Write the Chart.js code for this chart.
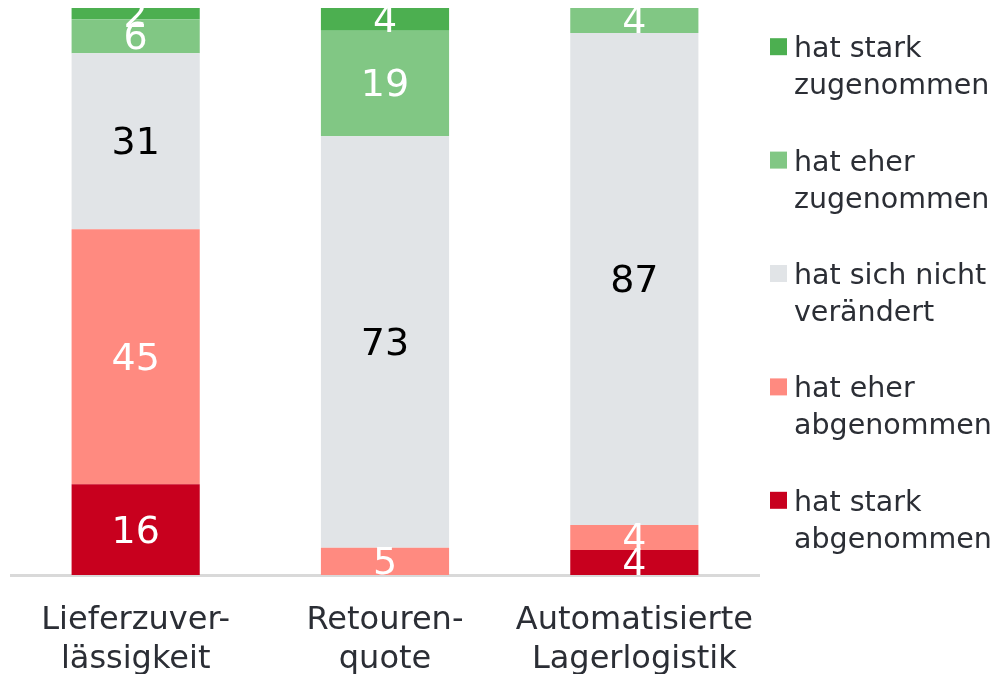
<!DOCTYPE html>
<html lang="de">
<head>
  <meta charset="UTF-8" />
  <title>Veränderungen</title>
  <script src="https://cdn.jsdelivr.net/npm/chart.js"></script>
  <style>
    * { margin: 0; padding: 0; box-sizing: border-box; }
    body { background: #fff; width: 997px; height: 674px; overflow: hidden; }
    canvas { display: block; }
  </style>
</head>
<body>
  <canvas id="chart" width="997" height="674"></canvas>

  <script>
    const categories = [
      ['Lieferzuver-', 'lässigkeit'],
      ['Retouren-', 'quote'],
      ['Automatisierte', 'Lagerlogistik']
    ];
    // stacked from bottom to top
    const starkAbgenommen = [16, 0, 4.4];
    const eherAbgenommen = [45, 4.8, 4.4];
    const unveraendert = [31, 72.6, 86.8];
    const eherZugenommen = [6, 18.6, 4.4];
    const starkZugenommen = [2, 4.0, 0];

    const seriesNames = [
      ['hat stark', 'abgenommen'],
      ['hat eher', 'abgenommen'],
      ['hat sich nicht', 'verändert'],
      ['hat eher', 'zugenommen'],
      ['hat stark', 'zugenommen']
    ];
    const colors = ['#c8001e', '#ff8a80', '#e1e4e7', '#81c784', '#4caf50'];
    const labelColors = ['#fff', '#fff', '#000', '#fff', '#fff'];
    const textColor = '#2b2e35';
    const fontFamily = '"DejaVu Sans", Verdana, sans-serif';

    const valueLabels = {
      id: 'valueLabels',
      afterDatasetsDraw(chart) {
        const ctx = chart.ctx;
        ctx.save();
        ctx.font = '38px ' + fontFamily;
        ctx.textAlign = 'center';
        ctx.textBaseline = 'middle';
        chart.data.datasets.forEach((ds, i) => {
          chart.getDatasetMeta(i).data.forEach((bar, j) => {
            const v = ds.data[j];
            if (!v) return;
            ctx.fillStyle = labelColors[i];
            ctx.fillText(String(Math.round(v)), bar.x, (bar.y + bar.base) / 2 + 3);
          });
        });
        ctx.restore();
      }
    };

    const sideLegend = {
      id: 'sideLegend',
      afterDraw(chart) {
        const ctx = chart.ctx;
        const area = chart.chartArea;
        const n = seriesNames.length;
        const step = (area.bottom - area.top) / n;
        ctx.save();
        ctx.font = '28.5px ' + fontFamily;
        ctx.textAlign = 'left';
        ctx.textBaseline = 'middle';
        for (let k = 0; k < n; k++) {
          const i = n - 1 - k; // top entry = last dataset
          const yc = area.top + step * (k + 0.5);
          const y1 = yc - 18;
          ctx.fillStyle = colors[i];
          ctx.fillRect(area.right + 11, y1 - 8.5, 17, 17);
          ctx.fillStyle = textColor;
          seriesNames[i].forEach((line, l) => {
            ctx.fillText(line, area.right + 35, y1 + 3 + l * 37);
          });
        }
        ctx.restore();
      }
    };

    const datasets = [starkAbgenommen, eherAbgenommen, unveraendert, eherZugenommen, starkZugenommen]
      .map((data, i) => ({
        label: seriesNames[i].join(' '),
        data: data,
        backgroundColor: colors[i],
        borderWidth: 0,
        barPercentage: 0.514,
        categoryPercentage: 1
      }));

    new Chart(document.getElementById('chart'), {
      type: 'bar',
      data: { labels: categories, datasets: datasets },
      options: {
        responsive: false,
        animation: false,
        layout: { padding: { top: 8, left: 11, right: 238, bottom: 0 } },
        plugins: {
          legend: { display: false },
          tooltip: { enabled: false }
        },
        scales: {
          x: {
            stacked: true,
            grid: { display: false },
            border: { display: true, color: '#d9d9d9', width: 3 },
            ticks: {
              color: textColor,
              padding: 18,
              font: { family: fontFamily, size: 32, lineHeight: 1.22 }
            },
            afterFit(scale) { scale.height = 99; }
          },
          y: {
            stacked: true,
            display: false,
            min: 0,
            max: 100
          }
        }
      },
      plugins: [valueLabels, sideLegend]
    });
  </script>
</body>
</html>
